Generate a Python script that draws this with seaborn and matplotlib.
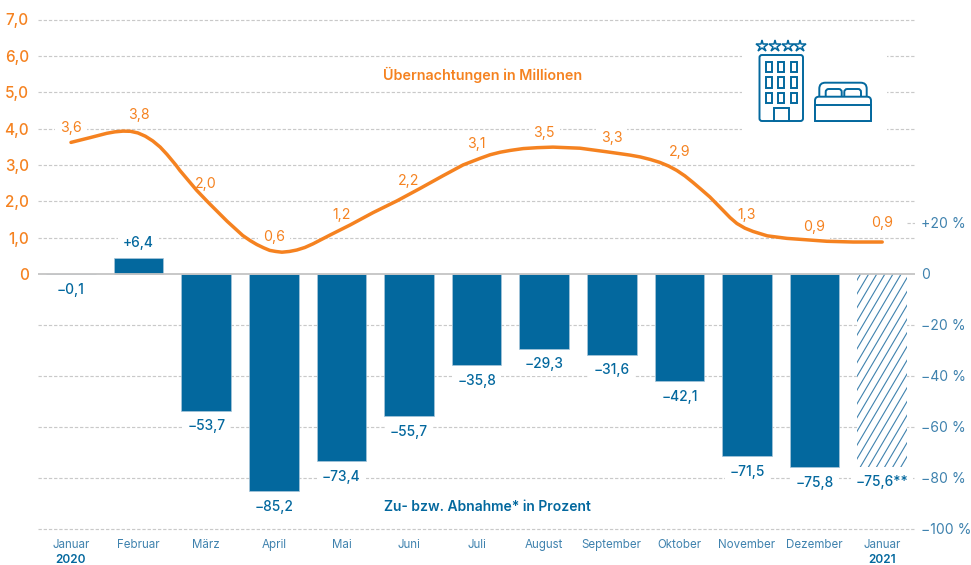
import numpy as np
import matplotlib
matplotlib.use('Agg')
import matplotlib.pyplot as plt
from matplotlib.patches import Rectangle, FancyBboxPatch
import seaborn as sns

months = ['Januar', 'Februar', 'März', 'April', 'Mai', 'Juni', 'Juli', 'August',
          'September', 'Oktober', 'November', 'Dezember', 'Januar']
month_pos = list(range(13))

# Zu- bzw. Abnahme in Prozent
change_pct = [-0.1, 6.4, -53.7, -85.2, -73.4, -55.7, -35.8, -29.3, -31.6, -42.1, -71.5, -75.8, -75.6]
change_labels = ['−0,1', '+6,4', '−53,7', '−85,2', '−73,4', '−55,7', '−35,8', '−29,3', '−31,6',
                 '−42,1', '−71,5', '−75,8', '−75,6**']

# Übernachtungen in Millionen
nights = [3.6, 3.8, 2.0, 0.6, 1.2, 2.2, 3.1, 3.5, 3.3, 2.9, 1.3, 0.9, 0.9]
nights_labels = ['3,6', '3,8', '2,0', '0,6', '1,2', '2,2', '3,1', '3,5', '3,3', '2,9', '1,3', '0,9', '0,9']

# curve (x in months from Januar 2020)
curve_x = [0, .28, .53, .65, .77, .88, .99, 1.10, 1.21, 1.32, 1.42, 1.55, 1.61, 1.86, 2.03, 2.31, 2.54,
           2.65, 2.75, 2.85, 2.94, 3.03, 3.12, 3.23, 3.34, 3.46, 3.58, 3.83, 3.98, 4.13, 4.47, 4.82,
           5.16, 5.50, 5.80, 6.05, 6.20, 6.35, 6.50, 6.69, 6.90, 7.13, 7.53, 7.93, 8.12, 8.27, 8.42, 8.57,
           8.71, 8.84, 8.96, 9.08, 9.20, 9.32, 9.45, 9.64, 9.75, 9.85, 9.97, 10.09, 10.30, 10.59,
           10.89, 11.18, 11.57, 12.0]
curve_y = [3.62, 3.75, 3.87, 3.91, 3.93, 3.925, 3.88, 3.79, 3.66, 3.49, 3.29, 3.0, 2.85, 2.30, 1.97, 1.45, 1.06,
           .92, .81, .72, .65, .62, .60, .62, .66, .73, .83, 1.07, 1.21, 1.35, 1.69, 2.01,
           2.35, 2.70, 3.0, 3.18, 3.28, 3.35, 3.40, 3.45, 3.475, 3.49, 3.46, 3.36, 3.31, 3.27, 3.22, 3.15,
           3.07, 2.97, 2.85, 2.70, 2.52, 2.33, 2.12, 1.76, 1.55, 1.39, 1.26, 1.17, 1.05, .98,
           .94, .90, .88, .88]

mio_ticks = [0, 1, 2, 3, 4, 5, 6, 7]
mio_ticklabels = ['0', '1,0', '2,0', '3,0', '4,0', '5,0', '6,0', '7,0']
pct_ticks = [20, 0, -20, -40, -60, -80, -100]
pct_ticklabels = ['+20 %', '0', '−20 %', '−40 %', '−60 %', '−80 %', '−100 %']

# label distance above the curve values, in pixels
nights_offset = [15, 21, 17, 15, 15, 13, 17, 14, 16, 17, 12, 14, 18]

ORANGE = '#F58220'
BLUE = '#03689E'
LIGHT_BLUE = '#3F82AE'
GRID = '#C9C9C9'

sns.set_theme(style='white')
plt.rcParams['font.family'] = ['Inter', 'DejaVu Sans']

W, H = 971, 565
fig = plt.figure(figsize=(W / 100, H / 100), dpi=100)
ax_mio = fig.add_axes([38 / W, 1 - 529 / H, (915 - 38) / W, (529 - 19.5) / H])
ax_pct = ax_mio.twinx()

ax_mio.set_ylim(-7.013, 7)
ax_pct.set_ylim(-100, 99.8)

sns.barplot(x=month_pos, y=change_pct, ax=ax_pct, color=BLUE, saturation=1, width=0.735,
            edgecolor='#A9C6DA', linewidth=0.5)
sns.lineplot(x=curve_x, y=curve_y, ax=ax_mio, sort=False, color=ORANGE, linewidth=2.5,
             solid_capstyle='round', solid_joinstyle='round', zorder=5)

# last bar is only a forecast: white with diagonal lines
last_bar = ax_pct.patches[12]
last_bar.set_facecolor('white')
last_bar.set_edgecolor('none')
for x0 in np.arange(9.9, 12.5, 0.12):
    line, = ax_pct.plot([x0, x0 + 1.78], [-80, 0], color=LIGHT_BLUE, lw=0.8, zorder=2)
    line.set_clip_path(last_bar)

ax_mio.set_xlim(-0.488, 12.485)
ax_mio.set_xticks(month_pos, months)
ax_mio.tick_params(axis='x', length=0, pad=7, labelsize=8.3, labelcolor=LIGHT_BLUE)

ax_mio.set_yticks(mio_ticks, mio_ticklabels)
ax_mio.tick_params(axis='y', length=0, pad=6.6, labelsize=11, labelcolor=ORANGE)
for lab in ax_mio.get_yticklabels():
    lab.set_fontweight('medium')
ax_pct.set_yticks(pct_ticks, pct_ticklabels)
ax_pct.tick_params(axis='y', length=0, pad=4.3, labelsize=10.1, labelcolor=LIGHT_BLUE)

for ax in (ax_mio, ax_pct):
    ax.set_xlabel('')
    ax.set_ylabel('')
    ax.set_axisbelow(True)
    ax.grid(True, axis='y', color=GRID, lw=0.85, linestyle=(0, (2.8, 1.6)))
    ax.grid(False, axis='x')
    sns.despine(ax=ax, left=True, right=True, top=True, bottom=True)
    for g in ax.yaxis.get_gridlines():
        g.set_clip_on(False)

# no grid for 0 and +20 on the percent scale
gl = ax_pct.yaxis.get_gridlines()
gl[0].set_visible(False)
gl[1].set_visible(False)
ax_mio.yaxis.get_gridlines()[0].set_visible(False)
ax_pct.plot([12.37, 12.485], [20, 20], color=GRID, lw=0.85, linestyle=(0, (2.8, 1.6)))
ax_pct.axhline(0, color='#C4C4C4', lw=1.3, zorder=4)
ax_mio.set_xlim(-0.488, 12.485)

white_box = dict(facecolor='white', edgecolor='none', pad=3.5)
for i in month_pos:
    ax_mio.annotate(nights_labels[i], (i, nights[i]), xytext=(0, nights_offset[i]),
                    textcoords='offset pixels', ha='center', va='center', fontsize=10.2,
                    color=ORANGE, bbox=white_box, zorder=3)
    side = 15 if change_pct[i] > 0 else -15.5
    ax_pct.annotate(change_labels[i], (i, change_pct[i]), xytext=(0, side),
                    textcoords='offset pixels', ha='center', va='center', fontsize=9.9,
                    fontweight='medium', color=BLUE, bbox=white_box, zorder=6)

# pixel overlay for titles, years and the icons
top = fig.add_axes([0, 0, 1, 1], zorder=5)
top.set_xlim(0, W)
top.set_ylim(H, 0)
top.axis('off')
top.patch.set_visible(False)

top.text(483, 75, 'Übernachtungen in Millionen', ha='center', va='center', fontsize=10.3,
         fontweight='semibold', color=ORANGE)
top.text(487, 507, 'Zu- bzw. Abnahme* in Prozent', ha='center', va='center', fontsize=10,
         fontweight='semibold', color=BLUE)
top.text(71, 560, '2020', ha='center', va='center', fontsize=8.5, fontweight='semibold', color=BLUE)
top.text(882, 560, '2021', ha='center', va='center', fontsize=8.5, fontweight='semibold', color=BLUE)

top.add_patch(Rectangle((742, 40), 145, 95, facecolor='white', edgecolor='none'))

ICON_LW = 1.4
def icon_rect(x0, y0, x1, y1, r=0.0):
    if r:
        p = FancyBboxPatch((x0 + r, y0 + r), x1 - x0 - 2 * r, y1 - y0 - 2 * r,
                           boxstyle=f'round,pad={r},rounding_size={r}', fc='white', ec=BLUE, lw=ICON_LW)
    else:
        p = Rectangle((x0, y0), x1 - x0, y1 - y0, fc='white', ec=BLUE, lw=ICON_LW)
    top.add_patch(p)

# hotel
icon_rect(759.5, 55, 803, 121, 2.5)
for wx in (765.7, 778.3, 790.7):
    for wy in (61.7, 77.3, 92.7):
        icon_rect(wx, wy, wx + 6, wy + 10.6)
icon_rect(774, 108, 788.7, 121)
top.plot([762, 775, 787.7, 800.3], [46.3] * 4, linestyle='none', marker='*', markersize=9,
         markerfacecolor='white', markeredgecolor=BLUE, markeredgewidth=1.1)

# bed
icon_rect(819.3, 82.7, 866.7, 110, 6)
icon_rect(825.7, 89, 841.7, 100, 3)
icon_rect(844.3, 89, 861, 100, 3)
icon_rect(815, 96.7, 871, 121, 4)
icon_rect(815, 105, 871, 121)

fig.savefig('out.png', dpi=100)
